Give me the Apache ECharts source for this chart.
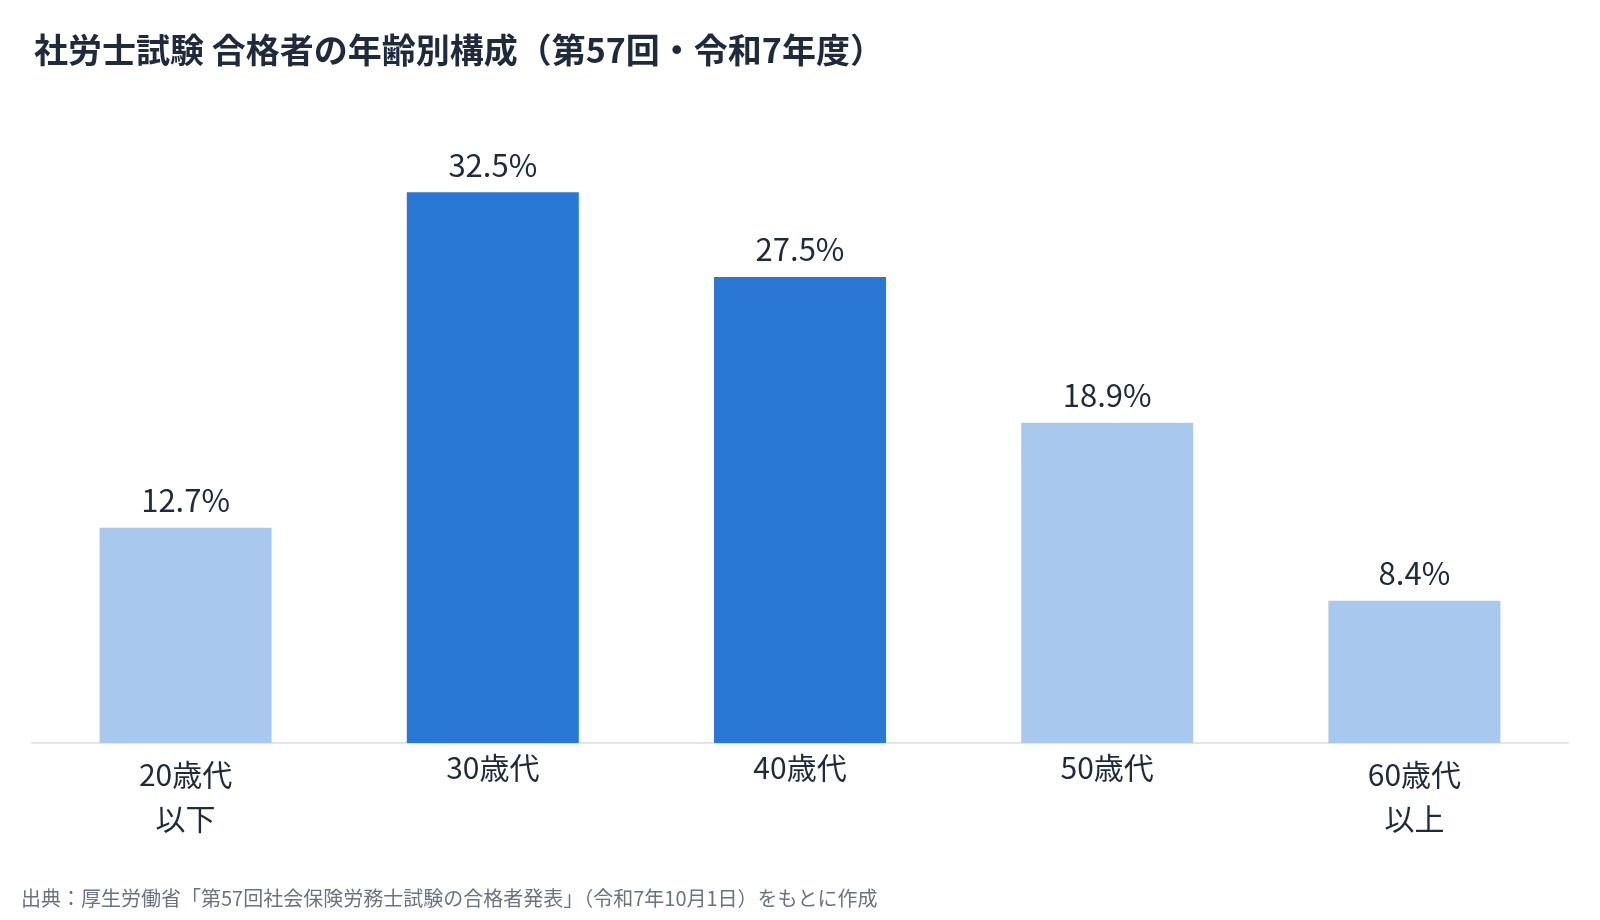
<!DOCTYPE html>
<html lang="ja">
<head>
<meta charset="utf-8">
<title>社労士試験 合格者の年齢別構成</title>
<script src="https://cdn.jsdelivr.net/npm/echarts@6/dist/echarts.min.js"></script>
<style>
  html, body { margin: 0; padding: 0; background: #fff; }
  #chart { width: 1600px; height: 920px; }
</style>
</head>
<body>
<div id="chart"></div>
<script>
// 年齢区分（改行あり）
const categories = ['20歳代\n以下', '30歳代', '40歳代', '50歳代', '60歳代\n以上'];
// 構成比（%）
const shares = [12.7, 32.5, 27.5, 18.9, 8.4];
// 強調する区分
const highlighted = [false, true, true, false, false];

const FONT = '"Noto Sans CJK JP", "Noto Sans", sans-serif';
const TEXT = '#1f2a3c';
const LIGHT = '#a9c8ee';
const DARK = '#2a78d6';

const chart = echarts.init(document.getElementById('chart'), null, { renderer: 'canvas' });

chart.setOption({
  animation: false,
  textStyle: { fontFamily: FONT },
  title: [
    {
      text: '社労士試験 合格者の年齢別構成（第57回・令和7年度）',
      left: 29,
      top: 28,
      textStyle: { fontSize: 34, fontWeight: 'bold', color: TEXT, fontFamily: FONT }
    },
    {
      text: '出典：厚生労働省「第57回社会保険労務士試験の合格者発表」（令和7年10月1日）をもとに作成',
      left: 16,
      top: 883,
      textStyle: { fontSize: 20, fontWeight: 'normal', color: '#6b7280', fontFamily: FONT }
    }
  ],
  grid: { left: 32, right: 32, top: 150, bottom: 177 },
  xAxis: {
    type: 'category',
    data: categories,
    axisLine: { lineStyle: { color: '#e3e5ea', width: 2 } },
    axisTick: { show: false },
    axisLabel: {
      margin: 10,
      interval: 0,
      formatter: (v) => v.indexOf('\n') >= 0
        ? v.split('\n').map((s) => '{m|' + s + '}').join('\n')
        : '{s|' + v + '}',
      rich: {
        m: { fontSize: 30, lineHeight: 44, color: TEXT, fontFamily: FONT },
        s: { fontSize: 30, lineHeight: 29, color: TEXT, fontFamily: FONT }
      }
    }
  },
  yAxis: {
    type: 'value',
    min: 0,
    max: 35,
    show: false,
    splitLine: { show: false }
  },
  series: [
    {
      type: 'bar',
      barWidth: 172,
      data: shares.map((v, i) => ({
        value: v,
        itemStyle: { color: highlighted[i] ? DARK : LIGHT }
      })),
      label: {
        show: true,
        position: 'top',
        distance: 12,
        fontSize: 31,
        color: TEXT,
        fontFamily: FONT,
        formatter: (p) => p.value.toFixed(1) + '%'
      }
    }
  ]
});
</script>
</body>
</html>
